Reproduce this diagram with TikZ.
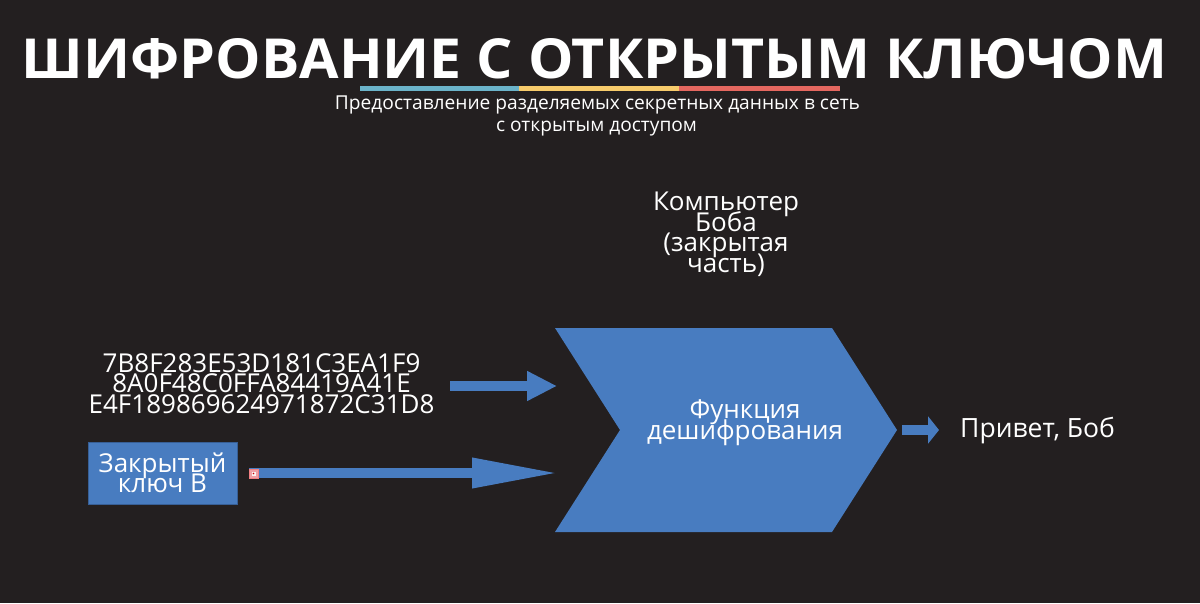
\documentclass[tikz,border=0pt]{standalone}
\usepackage{fontspec}
\setmainfont{Open Sans}
\usetikzlibrary{arrows.meta}
\definecolor{bg}{RGB}{35,31,32}
\definecolor{acc}{RGB}{72,124,192}
\definecolor{accd}{RGB}{55,95,150}
\definecolor{barb}{RGB}{107,179,201}
\definecolor{bary}{RGB}{247,203,107}
\definecolor{barr}{RGB}{228,103,95}
\definecolor{handle}{RGB}{240,160,165}
\newcommand\mytightfont{\fontsize{26}{20.5}\selectfont\lineskiplimit=-100pt\relax}
\tikzset{
  txt/.style={text=white, inner sep=0pt, align=center, font=\mytightfont},
  blockarrow/.style={draw=acc, line width=10pt},
  keybox/.style={fill=acc, draw=accd, line width=0.6pt, minimum width=149pt, minimum height=62pt, inner sep=0pt, text=white, align=center, font=\mytightfont},
}
\begin{document}
\begin{tikzpicture}[x=1pt,y=-1pt]
\path[fill=bg] (0,0) rectangle (1200,603);
\useasboundingbox (0,0) rectangle (1200,603);
% title
\node[anchor=base, inner sep=0pt, text=white] (title) at (594.5,78) {\resizebox{1145pt}{40pt}{\bfseries ШИФРОВАНИЕ С ОТКРЫТЫМ КЛЮЧОМ}};
% colour bar
\fill[barb] (360,85.5) rectangle (519,91);
\fill[bary] (519,85.5) rectangle (679,91);
\fill[barr] (679,85.5) rectangle (840,91);
% subtitle
\node[anchor=base, inner sep=0pt, text=white] (sub1) at (597.5,109) {\resizebox{525pt}{!}{\fontsize{18}{20}\selectfont Предоставление разделяемых секретных данных в сеть}};
\node[anchor=base, inner sep=0pt, text=white] (sub2) at (596.5,131) {\resizebox{201pt}{!}{\fontsize{18}{20}\selectfont с открытым доступом}};
% Bob's computer label
\node[txt, anchor=base] (bob) at (726,272) {Компьютер\\Боба\\(закрытая\\часть)};
% chevron
\fill[acc] (555,328) -- (832,328) -- (897,430) -- (832,532) -- (555,532) -- (620,430) -- cycle;
\coordinate (in1) at (557,386);
\coordinate (in2) at (559,473);
\coordinate (outp) at (902,430);
\node[txt, anchor=base] (func) at (745,439) {Функция\\дешифрования};
% ciphertext
\node[txt, anchor=base] (cipher) at (261.5,413) {7B8F283E53D181C3EA1F9\\8A0F48C0FFA84419A41E\\E4F189869624971872C31D8};
\coordinate (c1) at (450,386);
% private key
\node[keybox] (key) at (162.5,473) {Закрытый\\ключ В};
\coordinate (k1) at (249,473);
% result
\node[txt, anchor=base west, font=\fontsize{26.5}{30}\selectfont] (res) at (960,437) {Привет, Боб};
\coordinate (r1) at (939,430);
% arrows
\draw[blockarrow, -{Triangle[length=30pt,width=28pt]}] (c1) -- (in1);
\draw[blockarrow, -{Triangle[length=87pt,width=28pt]}] (k1) -- (in2);
\draw[blockarrow, -{Triangle[length=11pt,width=27pt]}] (outp) -- (r1);
% selection handle
\filldraw[fill=handle, draw=handle!80!red, line width=0.5pt] (249,469) rectangle (258,478);
\fill[white!85!handle] (251.5,471.5) rectangle (255.5,475.5);
\fill[red!80!black] (253.5,473.5) circle (0.9pt);
\end{tikzpicture}
\end{document}
